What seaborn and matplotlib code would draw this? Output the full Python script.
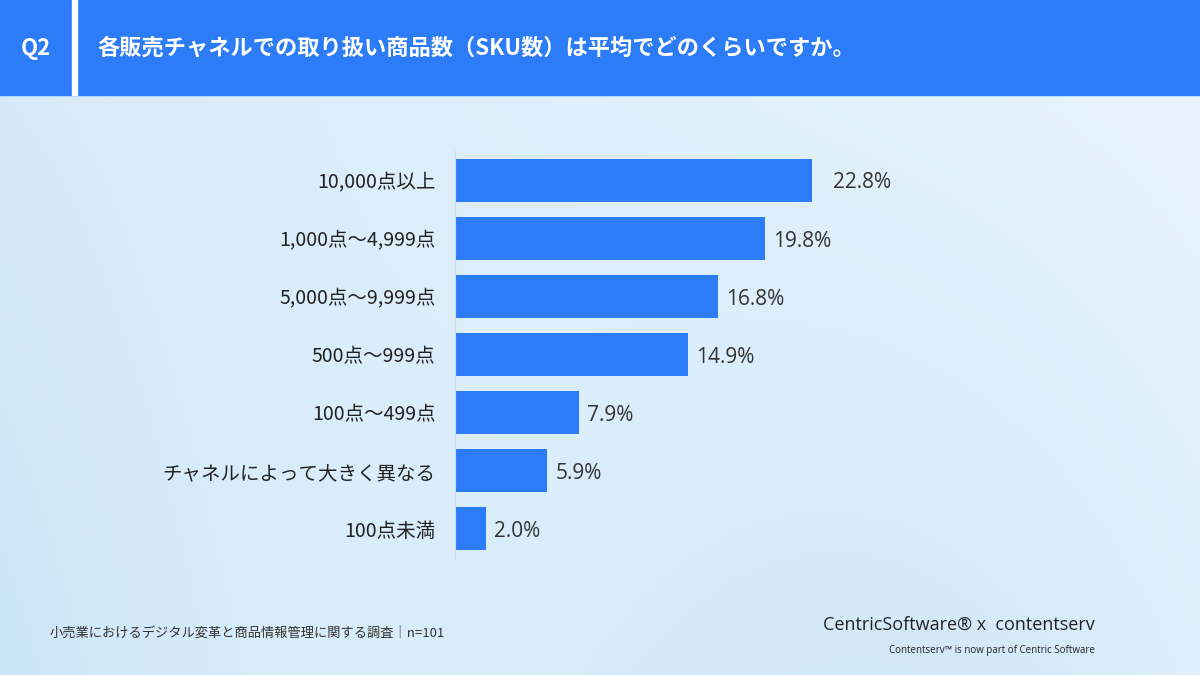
import numpy as np
import pandas as pd
import matplotlib
matplotlib.use("Agg")
import matplotlib.pyplot as plt
import seaborn as sns

categories = ["10,000点以上", "1,000点〜4,999点", "5,000点〜9,999点", "500点〜999点",
              "100点〜499点", "チャネルによって大きく異なる", "100点未満"]
values = [22.8, 19.8, 16.8, 14.9, 7.9, 5.9, 2.0]
title = "各販売チャネルでの取り扱い商品数（SKU数）は平均でどのくらいですか。"
footnote = "小売業におけるデジタル変革と商品情報管理に関する調査｜n=101"

plt.rcParams["font.family"] = "Noto Sans CJK JP"
BLUE = "#2b7cf6"
fig = plt.figure(figsize=(12, 6.75), dpi=100)

bg = fig.add_axes([0, 0, 1, 1], zorder=-10)
yy, xx = np.mgrid[0:1:200j, 0:1:300j]
c1 = np.array([0.80, 0.90, 0.97]); c2 = np.array([0.95, 0.98, 1.0])
t = np.clip(0.5 * xx + 0.5 * (1 - yy) * 0.6 + 0.2 * np.sin(xx * 6) * yy, 0, 1)[..., None]
img = c1 * (1 - t) + c2 * t
bg.imshow(img, aspect="auto", extent=[0, 1, 0, 1])
bg.set_xlim(0, 1); bg.set_ylim(0, 1); bg.axis("off")
bg.add_patch(plt.Rectangle((0, 1 - 95 / 675), 1, 95 / 675, color=BLUE))
bg.add_patch(plt.Rectangle((72 / 1200, 1 - 95 / 675), 5 / 1200, 95 / 675, color="white"))
bg.text(36 / 1200, 1 - 48 / 675, "Q2", color="white", fontsize=16, fontweight="bold", ha="center", va="center")
bg.text(97 / 1200, 1 - 48 / 675, title, color="white", fontsize=16, fontweight="bold", ha="left", va="center")
bg.text(50 / 1200, 1 - 633 / 675, footnote, color="#333333", fontsize=9.5, ha="left", va="center")
bg.text(1095 / 1200, 1 - 625 / 675, "CentricSoftware® x  contentserv", color="#222222", fontsize=13,
        ha="right", va="center", fontfamily="Open Sans")
bg.text(1095 / 1200, 1 - 650 / 675, "Contentserv™ is now part of Centric Software", color="#222222",
        fontsize=7, ha="right", va="center", fontfamily="Open Sans")

ax = fig.add_axes([455 / 1200, 1 - 558 / 675, 470 / 1200, 407 / 675])
df = pd.DataFrame({"cat": categories, "val": values})
sns.barplot(data=df, x="val", y="cat", color=BLUE, saturation=1, width=0.74, ax=ax)
ax.set_xlim(0, 30)
ax.patch.set_alpha(0)
for s in ["top", "right", "bottom"]:
    ax.spines[s].set_visible(False)
ax.spines["left"].set_color("#cfd8e0")
ax.set_xticks([]); ax.set_xlabel(""); ax.set_ylabel("")
ax.tick_params(axis="y", length=0, pad=14, labelsize=14, labelcolor="#222222")
for i, v in enumerate(values):
    off = 1.3 if i == 0 else 0.5
    ax.text(v + off, i + 0.05, f"{v:.1f}%", va="center", ha="left", fontsize=15, color="#333333",
            fontfamily="Open Sans")
fig.savefig("out.png", dpi=100)
